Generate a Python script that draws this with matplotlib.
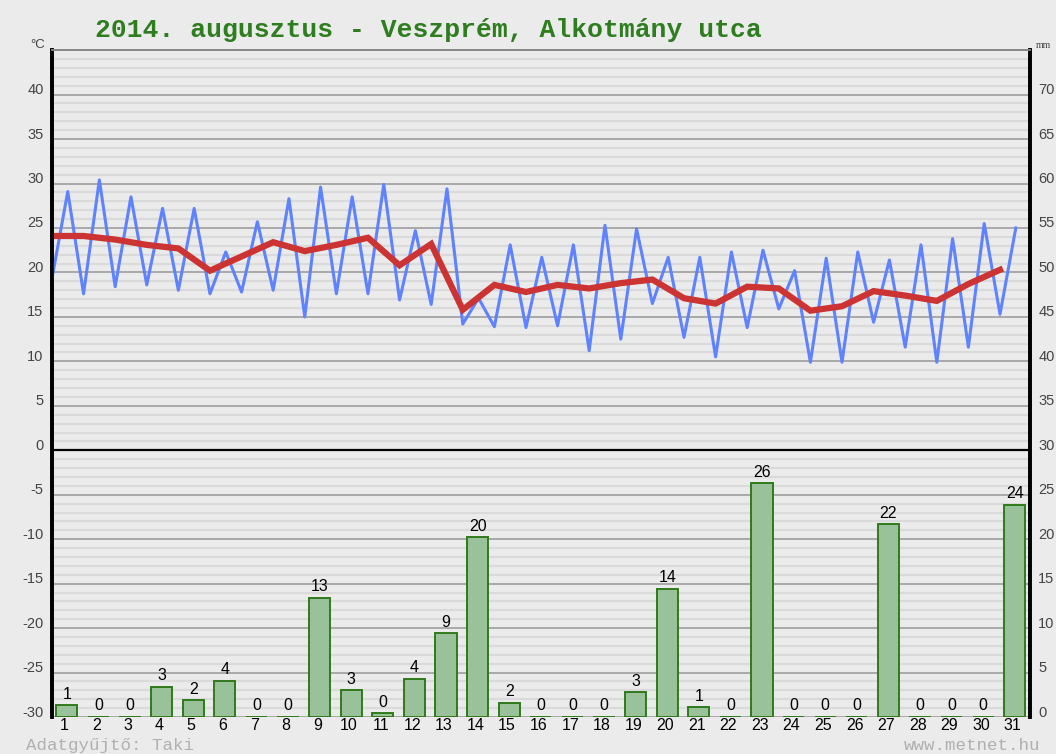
import numpy as np
import matplotlib.pyplot as plt
from matplotlib.transforms import ScaledTranslation

plt.rcParams["axes.unicode_minus"] = False

# daily data, August 2014
days = list(range(1, 32))
t_min = [19.3, 17.6, 18.4, 18.6, 18.0, 17.6, 17.8, 18.0, 15.0, 17.6,
         17.6, 16.9, 16.4, 14.2, 13.9, 13.8, 14.0, 11.2, 12.5, 16.5,
         12.7, 10.5, 13.8, 15.9, 9.9, 9.9, 14.4, 11.6, 9.9, 11.6, 15.3]
t_max = [29.1, 30.4, 28.5, 27.2, 27.2, 22.3, 25.7, 28.3, 29.6, 28.5,
         29.9, 24.7, 29.4, 17.1, 23.1, 21.7, 23.1, 25.3, 24.9, 21.7,
         21.7, 22.3, 22.5, 20.2, 21.6, 22.3, 21.4, 23.1, 23.8, 25.5, 25.0]
t_mean = [24.1, 24.1, 23.7, 23.1, 22.7, 20.2, 21.8, 23.4, 22.4, 23.1,
          23.9, 20.8, 23.2, 15.8, 18.6, 17.8, 18.6, 18.2, 18.8, 19.2,
          17.1, 16.5, 18.4, 18.2, 15.7, 16.2, 17.9, 17.4, 16.8, 18.7, 20.3]
precip = [1.3, 0, 0, 3.4, 1.9, 4.1, 0, 0, 13.4, 3.0,
          0.4, 4.3, 9.4, 20.2, 1.6, 0, 0, 0, 2.8, 14.4,
          1.1, 0, 26.3, 0, 0, 0, 21.7, 0, 0, 0, 23.9]

bg = "#ebebeb"
x0 = 0.6  # left edge of the plot in day units

fig = plt.figure(figsize=(10.56, 7.54), dpi=100, facecolor=bg)
ax = fig.add_axes([0.0492, 0.049, 0.9262, 0.8845])
ax.set_facecolor(bg)
ax.set_xlim(x0, 31.55)
ax.set_ylim(-30, 45)

# grid
for v in np.arange(-30, 46, 1):
    if v % 5 == 0:
        ax.axhline(v, color="#a3a3a3", lw=1.3, zorder=1)
    else:
        ax.axhline(v, color="#dadada", lw=1.6, zorder=0.5)
ax.axhline(0, color="black", lw=1.6, zorder=2)

# temperature: alternating min / max every half day
tmp = np.column_stack([t_min, t_max]).ravel()
xt = x0 + 0.5 * np.arange(len(tmp))
ax.plot(xt, tmp, color="#5f82ff", lw=2.2, zorder=3)
xm = x0 + np.arange(len(t_mean))
ax.plot(xm, t_mean, color="#cc3333", lw=4.5, solid_joinstyle="miter", zorder=4)

ax.set_yticks(np.arange(-30, 41, 5))
ax.set_xticks(days)
ax.set_xticklabels([str(d) for d in days])
ax.tick_params(axis="both", length=0)
ax.tick_params(axis="y", labelsize=10.5, labelcolor="#444444", pad=6)
ax.tick_params(axis="x", labelsize=11.5, labelcolor="black", pad=1)
for lab in ax.get_yticklabels():
    lab.set_fontfamily("Liberation Sans")
    lab.set_transform(lab.get_transform() + ScaledTranslation(0, 0.06, fig.dpi_scale_trans))
for lab in ax.get_xticklabels():
    lab.set_fontfamily("Liberation Sans")

# precipitation on right axis
ax2 = ax.twinx()
ax2.set_ylim(0, 75)
ax2.set_xlim(x0, 31.55)
bx = np.array(days) + 0.07
ax2.bar(bx, precip, width=0.67, color="#99c29a", edgecolor="#2f7a1b", lw=1.4, zorder=3)
for xi, p in zip(bx, precip):
    ax2.text(xi, p + 0.4, f"{p:.0f}", ha="center", va="bottom", fontsize=11.5,
             family="Liberation Sans", color="black")
ax2.set_yticks(np.arange(0, 71, 5))
ax2.tick_params(axis="y", length=0, labelsize=10.5, labelcolor="#444444", pad=6)
for lab in ax2.get_yticklabels():
    lab.set_fontfamily("Liberation Sans")
    lab.set_transform(lab.get_transform() + ScaledTranslation(0, 0.06, fig.dpi_scale_trans))

for a in (ax, ax2):
    a.spines["left"].set_linewidth(2.6)
    a.spines["left"].set_color("black")
    a.spines["right"].set_linewidth(2.6)
    a.spines["right"].set_color("black")
    a.spines["top"].set_color("#888888")
    a.spines["top"].set_linewidth(1.3)
    a.spines["bottom"].set_visible(False)

fig.text(0.036, 0.94, "°C", fontsize=9.5, color="#444444", ha="center", va="center",
         family="Liberation Sans")
fig.text(0.981, 0.94, "mm", fontsize=7, color="#444444", ha="left", va="center",
         family="Liberation Serif")
fig.text(0.09, 0.96, "2014. augusztus - Veszprém, Alkotmány utca", fontsize=19,
         fontweight="bold", family="Liberation Mono", color="#2e7d1f", ha="left", va="center")
fig.text(0.025, 0.011, "Adatgyűjtő: Taki", fontsize=12.6, family="Liberation Mono",
         color="#b0b0b0", ha="left", va="center")
fig.text(0.985, 0.011, "www.metnet.hu", fontsize=12.6, family="Liberation Mono",
         color="#b0b0b0", ha="right", va="center")

fig.savefig("out.png", dpi=100, facecolor=bg)
